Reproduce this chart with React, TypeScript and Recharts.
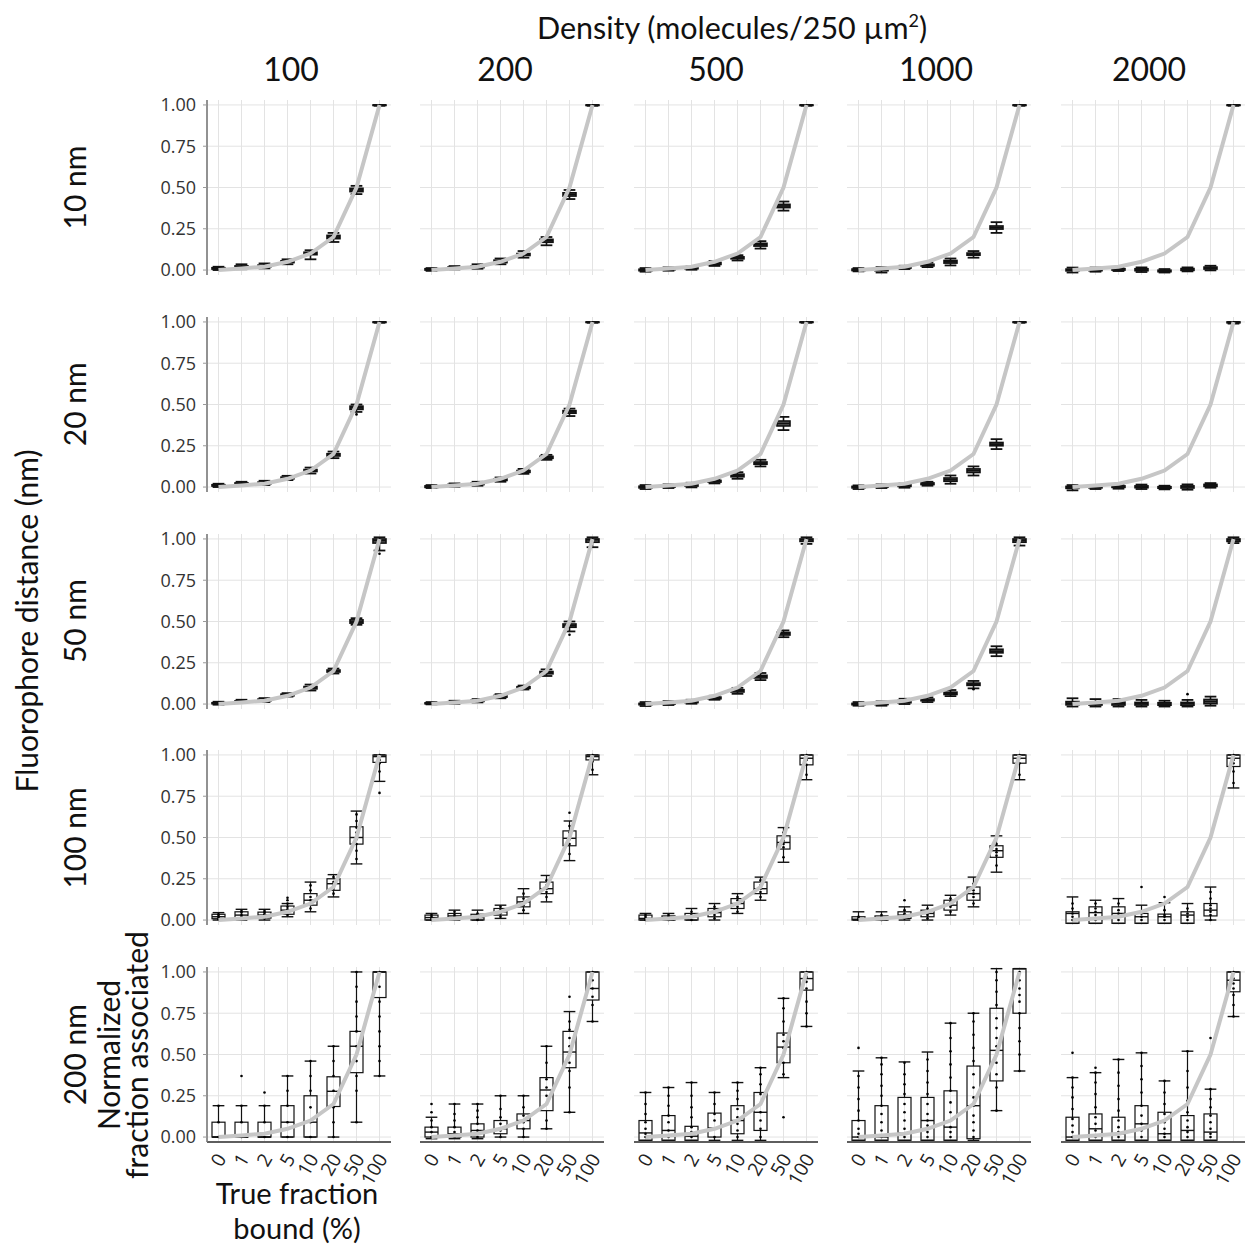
import React from 'react';
import { ComposedChart, Bar, Line, XAxis, YAxis, CartesianGrid } from 'recharts';

// ---------- categories / labels ----------
const CATEGORIES = ['0', '1', '2', '5', '10', '20', '50', '100'];
const EXPECTED = [0, 0.01, 0.02, 0.05, 0.1, 0.2, 0.5, 1.0];
const DENSITIES = ['100', '200', '500', '1000', '2000'];
const DISTANCES = ['10 nm', '20 nm', '50 nm', '100 nm', '200 nm'];
const Y_TICKS = [0, 0.25, 0.5, 0.75, 1];

// ---------- box statistics: [whiskerLow, q1, median, q3, whiskerHigh] ----------
const BOX_10NM = [
  [[0.0, 0.006, 0.01, 0.014, 0.02], [0.005, 0.015, 0.02, 0.025, 0.035], [0.01, 0.02, 0.025, 0.03, 0.04], [0.035, 0.045, 0.05, 0.056, 0.065], [0.065, 0.093, 0.1, 0.108, 0.12], [0.17, 0.19, 0.2, 0.21, 0.225], [0.46, 0.475, 0.485, 0.495, 0.51], [0.995, 0.998, 1.0, 1.0, 1.0]],
  [[-0.005, 0.0, 0.004, 0.008, 0.012], [0.004, 0.01, 0.014, 0.018, 0.024], [0.008, 0.015, 0.02, 0.025, 0.035], [0.035, 0.045, 0.052, 0.06, 0.07], [0.075, 0.088, 0.094, 0.1, 0.115], [0.15, 0.168, 0.177, 0.186, 0.2], [0.43, 0.448, 0.458, 0.468, 0.485], [0.995, 0.998, 1.0, 1.0, 1.0]],
  [[-0.01, -0.004, 0.0, 0.005, 0.012], [-0.004, 0.002, 0.006, 0.01, 0.016], [0.002, 0.008, 0.012, 0.016, 0.022], [0.025, 0.034, 0.04, 0.046, 0.055], [0.058, 0.068, 0.074, 0.08, 0.09], [0.13, 0.145, 0.153, 0.162, 0.175], [0.36, 0.378, 0.388, 0.398, 0.415], [0.995, 0.998, 1.0, 1.0, 1.0]],
  [[-0.008, -0.003, 0.002, 0.006, 0.012], [-0.015, -0.004, 0.002, 0.008, 0.018], [0.006, 0.012, 0.016, 0.02, 0.026], [0.018, 0.025, 0.03, 0.035, 0.045], [0.028, 0.042, 0.05, 0.058, 0.07], [0.075, 0.09, 0.096, 0.103, 0.115], [0.225, 0.248, 0.257, 0.267, 0.29], [0.995, 0.998, 1.0, 1.0, 1.0]],
  [[-0.015, -0.005, 0.0, 0.006, 0.015], [-0.01, -0.004, 0.002, 0.007, 0.015], [-0.006, 0.0, 0.004, 0.008, 0.018], [-0.012, -0.004, 0.002, 0.008, 0.016], [-0.015, -0.01, -0.006, -0.001, 0.006], [-0.008, -0.002, 0.004, 0.009, 0.016], [-0.002, 0.006, 0.012, 0.018, 0.026], [0.995, 0.998, 1.0, 1.0, 1.0]],
];
const BOX_20NM = [
  [[0.0, 0.006, 0.01, 0.014, 0.02], [0.008, 0.015, 0.02, 0.025, 0.032], [0.012, 0.02, 0.025, 0.03, 0.038], [0.042, 0.05, 0.055, 0.06, 0.068], [0.082, 0.094, 0.1, 0.106, 0.118], [0.175, 0.188, 0.195, 0.202, 0.215], [0.455, 0.47, 0.48, 0.49, 0.5], [0.995, 0.998, 1.0, 1.0, 1.0]],
  [[-0.006, -0.002, 0.003, 0.007, 0.012], [0.002, 0.008, 0.012, 0.016, 0.022], [0.008, 0.015, 0.02, 0.025, 0.032], [0.032, 0.04, 0.045, 0.05, 0.058], [0.08, 0.089, 0.095, 0.1, 0.11], [0.165, 0.174, 0.18, 0.186, 0.195], [0.43, 0.447, 0.455, 0.463, 0.475], [0.995, 0.998, 1.0, 1.0, 1.0]],
  [[-0.012, -0.005, 0.0, 0.005, 0.012], [-0.006, 0.0, 0.005, 0.01, 0.016], [-0.002, 0.006, 0.012, 0.018, 0.026], [0.022, 0.03, 0.035, 0.04, 0.048], [0.05, 0.062, 0.07, 0.078, 0.09], [0.125, 0.138, 0.145, 0.152, 0.165], [0.345, 0.37, 0.385, 0.4, 0.425], [0.995, 0.998, 1.0, 1.0, 1.0]],
  [[-0.012, -0.005, 0.0, 0.004, 0.01], [-0.006, 0.0, 0.005, 0.01, 0.016], [-0.004, 0.004, 0.01, 0.015, 0.022], [0.008, 0.015, 0.02, 0.025, 0.032], [0.02, 0.035, 0.045, 0.055, 0.07], [0.07, 0.088, 0.1, 0.11, 0.125], [0.23, 0.25, 0.26, 0.27, 0.29], [0.995, 0.998, 1.0, 1.0, 1.0]],
  [[-0.02, -0.008, 0.0, 0.004, 0.012], [-0.012, -0.005, 0.0, 0.005, 0.012], [-0.01, -0.002, 0.002, 0.007, 0.014], [-0.012, -0.004, 0.002, 0.007, 0.015], [-0.014, -0.007, -0.002, 0.002, 0.008], [-0.016, -0.006, 0.002, 0.007, 0.016], [-0.004, 0.004, 0.01, 0.016, 0.024], [0.99, 0.995, 0.998, 1.0, 1.0]],
];
const BOX_50NM = [
  [[-0.004, 0.002, 0.005, 0.008, 0.014], [0.006, 0.011, 0.015, 0.019, 0.026], [0.012, 0.02, 0.025, 0.03, 0.036], [0.045, 0.05, 0.055, 0.06, 0.066], [0.082, 0.092, 0.098, 0.106, 0.118], [0.185, 0.194, 0.2, 0.206, 0.215], [0.48, 0.49, 0.497, 0.51, 0.52], [0.93, 0.975, 0.99, 1.0, 1.01]],
  [[-0.002, 0.002, 0.004, 0.007, 0.012], [0.002, 0.006, 0.01, 0.014, 0.02], [0.01, 0.016, 0.02, 0.024, 0.03], [0.035, 0.042, 0.047, 0.052, 0.06], [0.088, 0.095, 0.1, 0.105, 0.112], [0.17, 0.183, 0.19, 0.197, 0.21], [0.44, 0.465, 0.475, 0.485, 0.5], [0.95, 0.98, 0.995, 1.0, 1.01]],
  [[-0.012, -0.004, 0.0, 0.004, 0.012], [-0.006, 0.0, 0.006, 0.011, 0.018], [0.002, 0.009, 0.014, 0.019, 0.026], [0.026, 0.032, 0.037, 0.042, 0.05], [0.062, 0.073, 0.08, 0.087, 0.098], [0.145, 0.158, 0.166, 0.174, 0.188], [0.405, 0.418, 0.426, 0.434, 0.446], [0.97, 0.985, 0.995, 1.0, 1.01]],
  [[-0.01, -0.004, 0.0, 0.004, 0.012], [-0.01, -0.003, 0.003, 0.008, 0.016], [0.0, 0.008, 0.015, 0.022, 0.032], [0.012, 0.02, 0.025, 0.03, 0.04], [0.048, 0.058, 0.065, 0.072, 0.085], [0.095, 0.113, 0.12, 0.127, 0.14], [0.29, 0.31, 0.32, 0.332, 0.35], [0.96, 0.98, 0.99, 1.0, 1.01]],
  [[-0.015, -0.005, 0.005, 0.015, 0.035], [-0.015, -0.006, 0.003, 0.012, 0.03], [-0.015, -0.006, 0.003, 0.012, 0.03], [-0.015, -0.006, 0.003, 0.01, 0.025], [-0.015, -0.007, 0.0, 0.008, 0.02], [-0.015, -0.007, 0.003, 0.01, 0.025], [-0.01, 0.002, 0.015, 0.028, 0.045], [0.975, 0.985, 0.995, 1.0, 1.01]],
];
const BOX_100NM = [
  [[0.0, 0.008, 0.02, 0.035, 0.045], [0.0, 0.012, 0.03, 0.05, 0.065], [0.0, 0.012, 0.03, 0.048, 0.065], [0.02, 0.035, 0.06, 0.085, 0.1], [0.05, 0.09, 0.12, 0.16, 0.23], [0.14, 0.18, 0.22, 0.25, 0.275], [0.34, 0.46, 0.5, 0.565, 0.66], [0.84, 0.955, 0.99, 1.0, 1.0]],
  [[0.0, 0.0, 0.015, 0.03, 0.04], [0.0, 0.01, 0.025, 0.04, 0.06], [0.0, 0.0, 0.015, 0.035, 0.06], [0.01, 0.03, 0.05, 0.07, 0.09], [0.04, 0.08, 0.11, 0.14, 0.19], [0.11, 0.16, 0.19, 0.23, 0.27], [0.36, 0.45, 0.495, 0.54, 0.6], [0.88, 0.97, 0.99, 1.0, 1.0]],
  [[0.0, 0.0, 0.01, 0.03, 0.04], [0.0, 0.0, 0.01, 0.025, 0.04], [0.0, 0.0, 0.02, 0.04, 0.07], [0.0, 0.02, 0.045, 0.07, 0.1], [0.04, 0.07, 0.1, 0.13, 0.16], [0.12, 0.16, 0.19, 0.23, 0.26], [0.35, 0.43, 0.47, 0.51, 0.56], [0.85, 0.94, 0.98, 1.0, 1.0]],
  [[0.0, 0.0, 0.005, 0.02, 0.05], [0.0, 0.0, 0.008, 0.025, 0.05], [0.0, 0.01, 0.03, 0.05, 0.08], [0.0, 0.02, 0.04, 0.06, 0.09], [0.03, 0.06, 0.09, 0.12, 0.15], [0.08, 0.12, 0.16, 0.2, 0.26], [0.29, 0.38, 0.42, 0.45, 0.51], [0.85, 0.95, 0.98, 1.0, 1.0]],
  [[-0.02, -0.02, 0.04, 0.05, 0.14], [-0.02, -0.02, 0.045, 0.08, 0.12], [-0.02, -0.02, 0.04, 0.08, 0.13], [-0.02, -0.02, 0.02, 0.04, 0.09], [-0.02, -0.02, 0.02, 0.036, 0.105], [-0.02, -0.02, 0.03, 0.05, 0.1], [0.0, 0.025, 0.06, 0.1, 0.2], [0.8, 0.93, 0.98, 1.0, 1.0]],
];
const BOX_200NM = [
  [[0, 0, 0, 0.09, 0.19], [0, 0, 0, 0.09, 0.19], [0, 0, 0, 0.09, 0.19], [0, 0, 0.09, 0.19, 0.37], [0, 0, 0.09, 0.25, 0.46], [0, 0.185, 0.277, 0.365, 0.55], [0.09, 0.39, 0.55, 0.64, 1.0], [0.37, 0.845, 1.0, 1.0, 1.0]],
  [[-0.01, 0, 0.03, 0.06, 0.12], [-0.01, 0, 0.02, 0.06, 0.2], [-0.01, 0, 0.04, 0.08, 0.2], [0, 0.02, 0.05, 0.1, 0.25], [0, 0.05, 0.1, 0.14, 0.25], [0.05, 0.16, 0.285, 0.36, 0.55], [0.15, 0.42, 0.515, 0.64, 0.76], [0.7, 0.83, 0.9, 1.0, 1.0]],
  [[-0.02, -0.02, 0.025, 0.1, 0.27], [-0.02, -0.02, 0.04, 0.13, 0.3], [-0.02, -0.02, 0.005, 0.065, 0.33], [-0.02, 0.0, 0.055, 0.145, 0.27], [-0.02, 0.02, 0.1, 0.19, 0.33], [-0.02, 0.04, 0.15, 0.27, 0.42], [0.36, 0.45, 0.545, 0.63, 0.84], [0.67, 0.89, 0.96, 1.0, 1.0]],
  [[-0.02, -0.02, 0.0, 0.1, 0.4], [-0.02, -0.02, 0.0, 0.19, 0.48], [-0.02, -0.02, 0.025, 0.24, 0.455], [-0.02, -0.02, 0.1, 0.24, 0.515], [-0.02, -0.02, 0.06, 0.28, 0.69], [-0.02, -0.01, 0.19, 0.43, 0.75], [0.16, 0.34, 0.525, 0.78, 1.02], [0.4, 0.75, 1.02, 1.02, 1.02]],
  [[-0.02, -0.02, 0.0, 0.12, 0.36], [-0.02, -0.02, 0.05, 0.14, 0.39], [-0.02, -0.02, 0.02, 0.12, 0.47], [-0.02, -0.02, 0.08, 0.19, 0.51], [-0.02, -0.02, 0.02, 0.15, 0.34], [-0.02, -0.02, 0.04, 0.13, 0.52], [-0.02, -0.02, 0.03, 0.14, 0.29], [0.73, 0.88, 0.95, 1.0, 1.0]],
];

// ---------- individual points drawn over the boxes ----------
const DOTS_10NM = [
  [[], [], [], [], [], [], [], []],
  [[], [], [], [], [], [], [], []],
  [[], [], [], [], [], [], [], []],
  [[], [], [], [], [], [], [], []],
  [[], [], [], [], [], [], [], []],
];
const DOTS_20NM = [
  [[], [], [], [], [], [], [0.44], []],
  [[], [], [], [], [], [], [], []],
  [[], [], [], [], [], [], [], []],
  [[], [], [], [], [], [], [], []],
  [[], [], [], [], [], [], [], []],
];
const DOTS_50NM = [
  [[], [], [], [], [], [], [], [0.91]],
  [[], [], [], [], [], [], [0.42], []],
  [[], [], [], [], [], [], [], []],
  [[], [], [], [], [], [0.09], [], []],
  [[], [], [], [], [], [0.06], [], []],
];
const DOTS_100NM = [
  [[0.005, 0.015, 0.025, 0.035], [0.01, 0.02, 0.03, 0.045, 0.055], [0.01, 0.02, 0.035, 0.045, 0.055], [0.03, 0.05, 0.065, 0.08, 0.1, 0.12, 0.135], [0.07, 0.1, 0.12, 0.14, 0.18, 0.21], [0.16, 0.19, 0.21, 0.23, 0.26], [0.37, 0.42, 0.46, 0.49, 0.51, 0.53, 0.56, 0.6, 0.64], [0.77, 0.9, 0.95, 0.97, 0.99, 1.0]],
  [[0.0, 0.01, 0.02, 0.03], [0.005, 0.02, 0.03, 0.05], [0.0, 0.01, 0.02, 0.04], [0.02, 0.04, 0.05, 0.06, 0.08], [0.06, 0.09, 0.11, 0.13, 0.16], [0.14, 0.17, 0.19, 0.21, 0.24], [0.4, 0.46, 0.49, 0.51, 0.53, 0.57, 0.65], [0.91, 0.96, 0.98, 1.0]],
  [[0.0, 0.01, 0.02, 0.03], [0.0, 0.01, 0.02, 0.03], [0.0, 0.02, 0.03, 0.05], [0.01, 0.03, 0.05, 0.06, 0.08], [0.05, 0.08, 0.1, 0.12, 0.14], [0.14, 0.17, 0.19, 0.21, 0.24], [0.38, 0.44, 0.46, 0.48, 0.5, 0.53], [0.88, 0.94, 0.97, 0.99, 1.0]],
  [[0.0, 0.01, 0.02], [0.0, 0.01, 0.02, 0.03], [0.01, 0.03, 0.04, 0.06, 0.12], [0.01, 0.03, 0.04, 0.05, 0.07], [0.05, 0.08, 0.09, 0.11, 0.13], [0.1, 0.14, 0.16, 0.18, 0.22], [0.33, 0.39, 0.41, 0.43, 0.46], [0.88, 0.95, 0.98, 1.0]],
  [[0.0, 0.02, 0.04, 0.07, 0.1], [0.0, 0.03, 0.05, 0.07, 0.1], [0.0, 0.02, 0.04, 0.06, 0.1], [0.0, 0.02, 0.04, 0.2], [0.0, 0.02, 0.03, 0.06, 0.14], [0.0, 0.02, 0.04, 0.07], [0.0, 0.03, 0.05, 0.07, 0.09, 0.13, 0.17], [0.83, 0.9, 0.95, 0.97, 1.0]],
];
const DOTS_200NM = [
  [[0, 0.09, 0.19], [0, 0.09, 0.19, 0.37], [0, 0.09, 0.19, 0.27], [0, 0.09, 0.19, 0.28, 0.37], [0, 0.09, 0.18, 0.28, 0.37, 0.46], [0, 0.09, 0.18, 0.28, 0.37, 0.46, 0.55], [0.09, 0.28, 0.37, 0.46, 0.55, 0.64, 0.73, 0.82, 0.91, 1.0], [0.37, 0.46, 0.55, 0.64, 0.73, 0.82, 0.91, 1.0]],
  [[0, 0.03, 0.06, 0.1, 0.15, 0.2], [0, 0.03, 0.06, 0.1, 0.14, 0.2], [0, 0.04, 0.08, 0.12, 0.16, 0.2], [0, 0.04, 0.08, 0.12, 0.17, 0.25], [0, 0.05, 0.09, 0.13, 0.18, 0.25], [0.05, 0.1, 0.2, 0.25, 0.3, 0.35, 0.45, 0.55], [0.15, 0.3, 0.4, 0.45, 0.5, 0.55, 0.6, 0.65, 0.7, 0.85], [0.7, 0.8, 0.85, 0.9, 0.95, 1.0]],
  [[0, 0.02, 0.05, 0.09, 0.14, 0.2, 0.27], [0, 0.04, 0.09, 0.13, 0.19, 0.25, 0.3], [0, 0.03, 0.06, 0.12, 0.18, 0.25, 0.33], [0, 0.05, 0.1, 0.14, 0.2, 0.27], [0, 0.04, 0.08, 0.12, 0.17, 0.23, 0.28, 0.33], [0, 0.05, 0.1, 0.15, 0.2, 0.26, 0.32, 0.38, 0.42], [0.12, 0.38, 0.45, 0.5, 0.54, 0.58, 0.62, 0.7, 0.78, 0.84], [0.67, 0.75, 0.82, 0.9, 0.94, 0.97, 1.0]],
  [[0, 0.02, 0.05, 0.1, 0.16, 0.23, 0.3, 0.37, 0.54], [0, 0.04, 0.09, 0.14, 0.19, 0.25, 0.31, 0.38, 0.44, 0.48], [0, 0.02, 0.05, 0.1, 0.15, 0.2, 0.26, 0.32, 0.38, 0.45], [0, 0.03, 0.07, 0.1, 0.14, 0.2, 0.26, 0.33, 0.4, 0.47], [0, 0.03, 0.06, 0.1, 0.15, 0.21, 0.28, 0.36, 0.44, 0.52, 0.6, 0.69], [0, 0.04, 0.09, 0.13, 0.19, 0.24, 0.3, 0.38, 0.46, 0.54, 0.62, 0.7, 0.75], [0.16, 0.3, 0.38, 0.45, 0.5, 0.55, 0.6, 0.66, 0.72, 0.8, 0.88, 0.95, 1.0], [0.4, 0.5, 0.58, 0.66, 0.75, 0.82, 0.86, 0.9, 0.95, 1.0]],
  [[0, 0.03, 0.07, 0.11, 0.17, 0.24, 0.3, 0.36, 0.51], [0, 0.04, 0.08, 0.12, 0.18, 0.26, 0.33, 0.39, 0.42], [0, 0.03, 0.06, 0.1, 0.16, 0.23, 0.31, 0.39, 0.47], [0, 0.04, 0.08, 0.13, 0.19, 0.27, 0.35, 0.43, 0.51], [0, 0.02, 0.05, 0.09, 0.14, 0.2, 0.27, 0.34], [0, 0.03, 0.06, 0.1, 0.15, 0.22, 0.3, 0.4, 0.52], [0, 0.02, 0.05, 0.09, 0.13, 0.18, 0.23, 0.29, 0.6], [0.73, 0.8, 0.86, 0.9, 0.93, 0.96, 1.0]],
];

const BOXES = [BOX_10NM, BOX_20NM, BOX_50NM, BOX_100NM, BOX_200NM];
const DOTS = [DOTS_10NM, DOTS_20NM, DOTS_50NM, DOTS_100NM, DOTS_200NM];

// ---------- layout ----------
const PLOT_W = 184;
const PLOT_H = 175;
const COL_X0 = 206.5;
const COL_STEP = 213.5;
const ROW_Y0 = 100;
const ROW_STEP = 216.8;
const TITLE_FONT = 'Lato, "Open Sans", sans-serif';
const TICK_FONT = '"Open Sans", "DejaVu Sans", sans-serif';

// Box drawn inside the band of a [0, 1] range bar: y is the pixel of 1, y + height the pixel of 0.
function makeBoxShape(dense: boolean) {
  return function BoxShape(props: any) {
    const { x, y, width, height, payload } = props;
    if (x == null || y == null || !payload) return null;
    const cx = x + width / 2;
    const sy = (v: number) => y + height * (1 - v);
    const [lo, q1, med, q3, hi] = payload.box as number[];
    const half = width / 2;
    const cap = width * 0.45;
    const sw = dense ? 1.6 : 1.2;
    const dots: number[] = payload.dots || [];
    return (
      <g>
        <line x1={cx} x2={cx} y1={sy(hi)} y2={sy(q3)} stroke="#111" strokeWidth={sw} />
        <line x1={cx} x2={cx} y1={sy(q1)} y2={sy(lo)} stroke="#111" strokeWidth={sw} />
        <line x1={cx - cap} x2={cx + cap} y1={sy(hi)} y2={sy(hi)} stroke="#111" strokeWidth={sw + 0.2} />
        <line x1={cx - cap} x2={cx + cap} y1={sy(lo)} y2={sy(lo)} stroke="#111" strokeWidth={sw + 0.2} />
        <rect
          x={cx - half}
          y={sy(q3)}
          width={width}
          height={Math.max(sy(q1) - sy(q3), 0.5)}
          fill={dense ? '#6a6a6a' : 'none'}
          stroke="#111"
          strokeWidth={sw}
        />
        <line x1={cx - half} x2={cx + half} y1={sy(med)} y2={sy(med)} stroke="#111" strokeWidth={sw + 0.2} />
        {dots.map((d, i) => (
          <circle key={i} cx={cx} cy={sy(d)} r={1.3} fill="#000" />
        ))}
      </g>
    );
  };
}
const DenseBox = makeBoxShape(true);
const WideBox = makeBoxShape(false);

function XTick(props: any) {
  const { x, y, payload } = props;
  const ax = x + 2.5;
  const ay = y + 13;
  return (
    <text x={ax} y={ay} transform={`rotate(-60 ${ax} ${ay})`} textAnchor="end" dominantBaseline="central" fontSize={19} fontFamily={TICK_FONT} fill="#222">
      {payload.value}
    </text>
  );
}

function Panel({ r, c }: { r: number; c: number }) {
  const isLeft = c === 0;
  const isBottom = r === 4;
  const ML = 2, MR = 4, MT = 12, MB = 14;
  const YW = isLeft ? 62 : 0;
  const XH = isBottom ? 46 : 0;
  const width = ML + YW + PLOT_W + MR;
  const height = MT + PLOT_H + XH + MB;
  const left = COL_X0 + c * COL_STEP - ML - YW;
  const top = ROW_Y0 + r * ROW_STEP - MT;
  const data = CATEGORIES.map((cat, i) => ({
    cat,
    expected: EXPECTED[i],
    span: [0, 1],
    box: BOXES[r][c][i],
    dots: DOTS[r][c][i],
  }));
  return (
    <div style={{ position: 'absolute', left, top }}>
      <ComposedChart width={width} height={height} data={data} margin={{ top: MT, right: MR, bottom: MB, left: ML }}>
        <CartesianGrid stroke="#e3e3e3" strokeWidth={1} syncWithTicks />
        <XAxis
          dataKey="cat"
          hide={!isBottom}
          height={XH}
          interval={0}
          tickLine={false}
          tickSize={0}
          tickMargin={0}
          axisLine={{ stroke: '#5e5e5e', strokeWidth: 2 }}
          tick={<XTick />}
        />
        <YAxis
          type="number"
          domain={[-0.03, 1.03]}
          allowDataOverflow
          ticks={Y_TICKS}
          interval={0}
          hide={!isLeft}
          width={YW}
          tickFormatter={(v: number) => v.toFixed(2)}
          axisLine={{ stroke: '#777', strokeWidth: 1.6 }}
          tickLine={{ stroke: '#999' }}
          tickSize={4}
          tickMargin={7}
          tick={{ fontSize: 18, fill: '#333', fontFamily: TICK_FONT }}
        />
        <Line dataKey="expected" stroke="#c6c6c6" strokeWidth={4} dot={false} activeDot={false} isAnimationActive={false} />
        <Bar dataKey="span" barSize={13} shape={r < 3 ? DenseBox : WideBox} isAnimationActive={false} />
      </ComposedChart>
    </div>
  );
}

const HEADER_X = [291, 505, 716, 936, 1149];

export default function App() {
  const panels = [];
  for (let r = 0; r < 5; r++) {
    for (let c = 0; c < 5; c++) {
      panels.push(<Panel key={`${r}-${c}`} r={r} c={c} />);
    }
  }
  const rowCenter = (r: number) => ROW_Y0 + r * ROW_STEP + PLOT_H / 2;
  return (
    <div style={{ position: 'absolute', left: 0, top: 0, width: 1248, height: 1245, background: '#fff' }}>
      <svg width={1248} height={1245} style={{ position: 'absolute', left: 0, top: 0 }}>
        <text x={732} y={39} textAnchor="middle" fontSize={30.5} fontFamily={TITLE_FONT} fill="#111">
          Density (molecules/250 µm<tspan fontSize={18} dy={-12}>2</tspan><tspan dy={12}>)</tspan>
        </text>
        {DENSITIES.map((d, i) => (
          <text key={d} x={HEADER_X[i]} y={81} textAnchor="middle" fontSize={32} fontFamily={TITLE_FONT} fill="#111">
            {d}
          </text>
        ))}
        {DISTANCES.map((d, r) => (
          <text key={d} x={86} y={rowCenter(r)} transform={`rotate(-90 86 ${rowCenter(r)})`} textAnchor="middle" fontSize={30} fontFamily={TITLE_FONT} fill="#111">
            {d}
          </text>
        ))}
        <text x={38} y={621} transform="rotate(-90 38 621)" textAnchor="middle" fontSize={30} fontFamily={TITLE_FONT} fill="#111">
          Fluorophore distance (nm)
        </text>
        <text x={120} y={1055} transform="rotate(-90 120 1055)" textAnchor="middle" fontSize={30} fontFamily={TITLE_FONT} fill="#111">
          Normalized
        </text>
        <text x={148} y={1055} transform="rotate(-90 148 1055)" textAnchor="middle" fontSize={30} fontFamily={TITLE_FONT} fill="#111">
          fraction associated
        </text>
        <text x={297} y={1204} textAnchor="middle" fontSize={29} fontFamily={TITLE_FONT} fill="#111">
          True fraction
        </text>
        <text x={297} y={1239} textAnchor="middle" fontSize={29} fontFamily={TITLE_FONT} fill="#111">
          bound (%)
        </text>
      </svg>
      {panels}
    </div>
  );
}
